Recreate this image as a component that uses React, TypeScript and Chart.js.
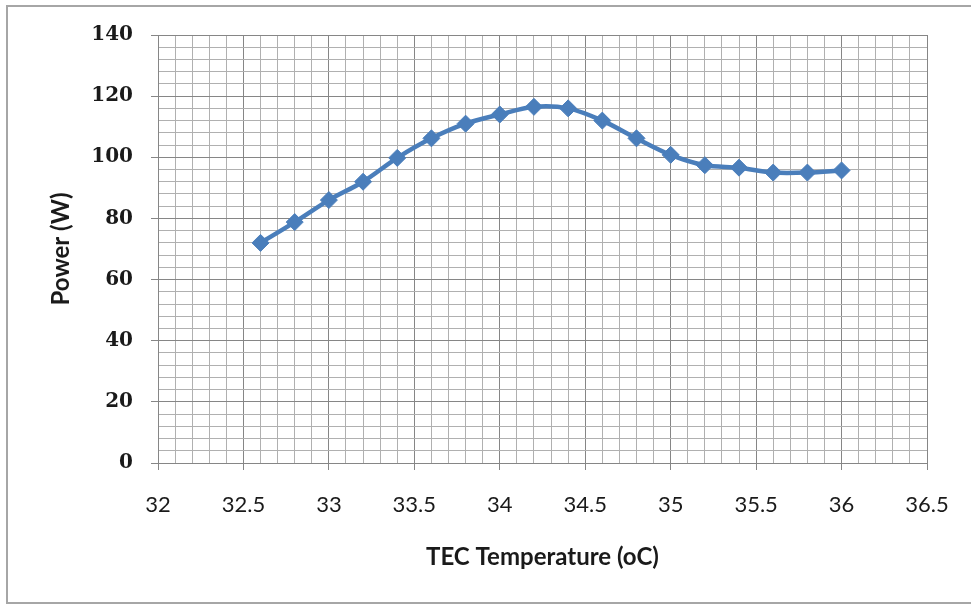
import React, { useEffect, useRef } from "react";
import { Chart, registerables } from "chart.js";

Chart.register(...registerables);

const temperatures = [32.6, 32.8, 33.0, 33.2, 33.4, 33.6, 33.8, 34.0, 34.2, 34.4, 34.6, 34.8, 35.0, 35.2, 35.4, 35.6, 35.8, 36.0];
const powers = [72, 78.8, 86, 92, 99.8, 106.2, 111, 114, 116.5, 116, 112, 106.2, 100.8, 97.4, 96.6, 95, 95, 95.7];

const xMin = 32;
const xMax = 36.5;
const xMinorStep = 0.1;
const xMajorStep = 0.5;
const yMin = 0;
const yMax = 140;
const yMinorStep = 4;
const yMajorStep = 20;

const xTitle = "TEC Temperature (oC)";
const yTitle = "Power (W)";

const LINE_COLOR = "#4a7ebb";
const MAJOR_GRID = "#868686";
const MINOR_GRID = "#b0b0b0";

const isMultiple = (v: number, step: number) => {
  const r = v / step;
  return Math.abs(r - Math.round(r)) < 1e-6;
};

export default function App() {
  const ref = useRef<HTMLCanvasElement | null>(null);

  useEffect(() => {
    if (!ref.current) return;
    const data = temperatures.map((t, i) => ({ x: t, y: powers[i] }));
    const chart = new Chart(ref.current, {
      type: "scatter",
      data: {
        datasets: [
          {
            data,
            showLine: true,
            borderColor: LINE_COLOR,
            backgroundColor: LINE_COLOR,
            borderWidth: 4.5,
            pointStyle: "rectRot",
            pointRadius: 8.5,
            pointBorderWidth: 1,
            pointBorderColor: LINE_COLOR,
            pointBackgroundColor: LINE_COLOR,
            tension: 0.3,
          },
        ],
      },
      options: {
        animation: false,
        responsive: false,
        layout: { padding: { left: 0, top: 35, right: 44, bottom: 0 } },
        plugins: {
          legend: { display: false },
          tooltip: { enabled: false },
        },
        scales: {
          x: {
            type: "linear",
            min: xMin,
            max: xMax,
            afterFit: (scale: any) => {
              scale.height = 146;
            },
            border: { color: MAJOR_GRID, width: 1 },
            grid: {
              color: (ctx: any) => (isMultiple(ctx.tick?.value ?? 0, xMajorStep) ? MAJOR_GRID : MINOR_GRID),
              tickColor: (ctx: any) => (isMultiple(ctx.tick?.value ?? 0, xMajorStep) ? MAJOR_GRID : "rgba(0,0,0,0)"),
              tickLength: 7,
              lineWidth: 1,
            },
            ticks: {
              stepSize: xMinorStep,
              autoSkip: false,
              maxRotation: 0,
              minRotation: 0,
              padding: 22,
              color: "#1a1a1a",
              font: { family: "Lato", size: 22 },
              callback: (v: any) => (isMultiple(Number(v), xMajorStep) ? String(Number(v)) : ""),
            },
            title: {
              display: true,
              text: xTitle,
              color: "#1a1a1a",
              font: { family: "Lato", size: 24, weight: "bold" },
              padding: { top: 0, bottom: 37 },
            },
          },
          y: {
            type: "linear",
            min: yMin,
            max: yMax,
            afterFit: (scale: any) => {
              scale.width = 158;
            },
            border: { color: MAJOR_GRID, width: 1 },
            grid: {
              color: (ctx: any) => (isMultiple(ctx.tick?.value ?? 0, yMajorStep) ? MAJOR_GRID : MINOR_GRID),
              tickColor: (ctx: any) => (isMultiple(ctx.tick?.value ?? 0, yMajorStep) ? MAJOR_GRID : "rgba(0,0,0,0)"),
              tickLength: 7,
              lineWidth: 1,
            },
            ticks: {
              stepSize: yMinorStep,
              autoSkip: false,
              padding: 18,
              color: "#1a1a1a",
              font: { family: "DejaVu Serif", size: 20, weight: "bold" },
              callback: (v: any) => (isMultiple(Number(v), yMajorStep) ? String(Number(v)) : ""),
            },
            title: {
              display: true,
              text: yTitle,
              color: "#1a1a1a",
              font: { family: "Lato", size: 24, weight: "bold" },
              padding: { top: 47, bottom: 0 },
            },
          },
        },
      },
    } as any);
    return () => chart.destroy();
  }, []);

  return (
    <div style={{ position: "absolute", left: 0, top: 0, width: 971, height: 609, background: "#fff", overflow: "hidden" }}>
      <div
        style={{
          position: "absolute",
          left: 6,
          top: 5,
          width: 980,
          height: 599,
          border: "2px solid #a6a6a6",
          boxSizing: "border-box",
        }}
      />
      <canvas ref={ref} width={971} height={609} style={{ position: "absolute", left: 0, top: 0 }} />
    </div>
  );
}
